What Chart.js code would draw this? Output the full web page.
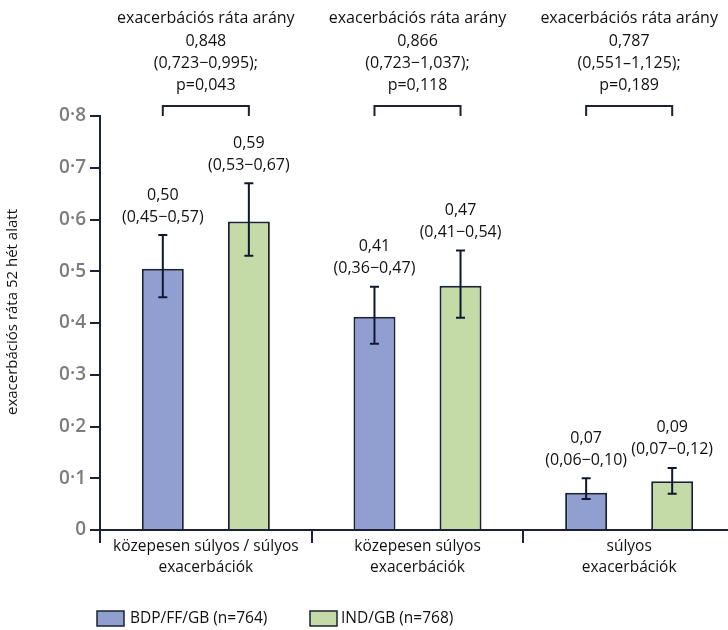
<!DOCTYPE html>
<html><head><meta charset="utf-8">
<script src="https://cdn.jsdelivr.net/npm/chart.js@4"></script>
<style>
html,body{margin:0;padding:0;background:#fff;overflow:hidden;width:728px;height:630px}
#wrap{position:relative;width:735px;height:630px}
</style>
</head><body><div id="wrap"><canvas id="c" width="735" height="630"></canvas></div>
<script>
// ---- data ----
const categories = [
  ['közepesen súlyos / súlyos', 'exacerbációk'],
  ['közepesen súlyos', 'exacerbációk'],
  ['súlyos', 'exacerbációk']
];
const seriesNames = ['BDP/FF/GB (n=764)', 'IND/GB (n=768)'];
const bdpRate = [0.505, 0.412, 0.072];
const bdpLow  = [0.45, 0.36, 0.06];
const bdpHigh = [0.57, 0.47, 0.10];
const indRate = [0.596, 0.472, 0.094];
const indLow  = [0.53, 0.41, 0.07];
const indHigh = [0.67, 0.54, 0.12];
const bdpValueText = ['0,50', '0,41', '0,07'];
const bdpCiText = ['(0,45−0,57)', '(0,36−0,47)', '(0,06−0,10)'];
const indValueText = ['0,59', '0,47', '0,09'];
const indCiText = ['(0,53−0,67)', '(0,41−0,54)', '(0,07−0,12)'];
const ratioTitle = 'exacerbációs ráta arány';
const ratioValues = ['0,848', '0,866', '0,787'];
const ratioCi = ['(0,723−0,995);', '(0,723−1,037);', '(0,551–1,125);'];
const pValues = ['p=0,043', 'p=0,118', 'p=0,189'];
const yTickLabels = ['0', '0·1', '0·2', '0·3', '0·4', '0·5', '0·6', '0·7', '0·8'];
const yTitle = 'exacerbációs ráta 52 hét alatt';

// ---- style ----
const FONT = '"Open Sans", sans-serif';
const DARK = '#1b2233';
const BLUE = '#909fd0';
const GREEN = '#c4dba8';

const overlay = {
  id: 'overlay',
  afterDatasetsDraw(chart) {
    const ctx = chart.ctx;
    const ys = chart.scales.y;
    const m0 = chart.getDatasetMeta(0), m1 = chart.getDatasetMeta(1);
    ctx.save();
    const groups = [
      [m0, bdpLow, bdpHigh, bdpValueText, bdpCiText],
      [m1, indLow, indHigh, indValueText, indCiText]
    ];
    groups.forEach(([meta, lo, hi, vt, ct]) => {
      meta.data.forEach((bar, i) => {
        const x = bar.x;
        const yl = ys.getPixelForValue(lo[i]);
        const yh = ys.getPixelForValue(hi[i]);
        ctx.strokeStyle = '#0f1830';
        ctx.lineWidth = 2;
        ctx.beginPath();
        ctx.moveTo(x, yl); ctx.lineTo(x, yh);
        ctx.moveTo(x - 4.5, yl); ctx.lineTo(x + 4.5, yl);
        ctx.moveTo(x - 4.5, yh); ctx.lineTo(x + 4.5, yh);
        ctx.stroke();
        ctx.fillStyle = '#111';
        ctx.font = '16px ' + FONT;
        ctx.textAlign = 'center';
        ctx.textBaseline = 'middle';
        ctx.fillText(vt[i], x, yh - 40);
        ctx.fillText(ct[i], x, yh - 18);
      });
    });
    m0.data.forEach((b0, i) => {
      const xb = b0.x, xg = m1.data[i].x;
      ctx.strokeStyle = DARK;
      ctx.lineWidth = 2;
      ctx.beginPath();
      ctx.moveTo(xb, 116); ctx.lineTo(xb, 106); ctx.lineTo(xg, 106); ctx.lineTo(xg, 116);
      ctx.stroke();
      const cx = (xb + xg) / 2;
      ctx.fillStyle = '#111';
      ctx.font = '16px ' + FONT;
      ctx.textAlign = 'center';
      ctx.textBaseline = 'middle';
      ctx.fillText(ratioTitle, cx, 18);
      ctx.fillText(ratioValues[i], cx, 41);
      ctx.fillText(ratioCi[i], cx, 63);
      ctx.fillText(pValues[i], cx, 85);
    });
    ctx.save();
    ctx.translate(13, 312);
    ctx.rotate(-Math.PI / 2);
    ctx.font = '15px ' + FONT;
    ctx.fillStyle = '#111';
    ctx.textAlign = 'center';
    ctx.textBaseline = 'middle';
    ctx.fillText(yTitle, 0, 0);
    ctx.restore();
    const items = [[97, 130, BLUE, seriesNames[0]], [310, 341, GREEN, seriesNames[1]]];
    items.forEach(([bx, tx, col, txt]) => {
      ctx.fillStyle = col;
      ctx.fillRect(bx, 611, 27, 15);
      ctx.strokeStyle = DARK;
      ctx.lineWidth = 1.5;
      ctx.strokeRect(bx, 611, 27, 15);
      ctx.fillStyle = '#111';
      ctx.font = '15.5px ' + FONT;
      ctx.textAlign = 'left';
      ctx.textBaseline = 'middle';
      ctx.fillText(txt, tx, 619);
    });
    ctx.restore();
  }
};

new Chart(document.getElementById('c'), {
  type: 'bar',
  data: {
    labels: categories,
    datasets: [
      { label: seriesNames[0], data: bdpRate, backgroundColor: BLUE, borderColor: DARK, borderWidth: 2,
        categoryPercentage: 0.813, barPercentage: 0.488 },
      { label: seriesNames[1], data: indRate, backgroundColor: GREEN, borderColor: DARK, borderWidth: 2,
        categoryPercentage: 0.813, barPercentage: 0.488 }
    ]
  },
  options: {
    responsive: false,
    animation: false,
    layout: { padding: { top: 116, left: 0, right: 0, bottom: 0 } },
    plugins: { legend: { display: false }, tooltip: { enabled: false } },
    scales: {
      x: {
        offset: true,
        grid: { offset: true, drawOnChartArea: false, tickLength: 13, color: DARK, lineWidth: 2 },
        border: { color: DARK, width: 2 },
        ticks: { padding: -6, color: '#111', font: { family: FONT, size: 15.5, lineHeight: 1.3 }, maxRotation: 0, autoSkip: false },
        afterFit: s => { s.height = 100; }
      },
      y: {
        min: 0, max: 0.8,
        grid: { drawOnChartArea: false, tickLength: 10, color: DARK, lineWidth: 2 },
        border: { color: DARK, width: 2 },
        ticks: { stepSize: 0.1, padding: 4, color: '#7d7d7d',
          font: { family: FONT, size: 19, weight: '600' },
          callback: (v, i) => yTickLabels[i] },
        afterFit: s => { s.width = 100; }
      }
    }
  },
  plugins: [overlay]
});
</script>
</body></html>
